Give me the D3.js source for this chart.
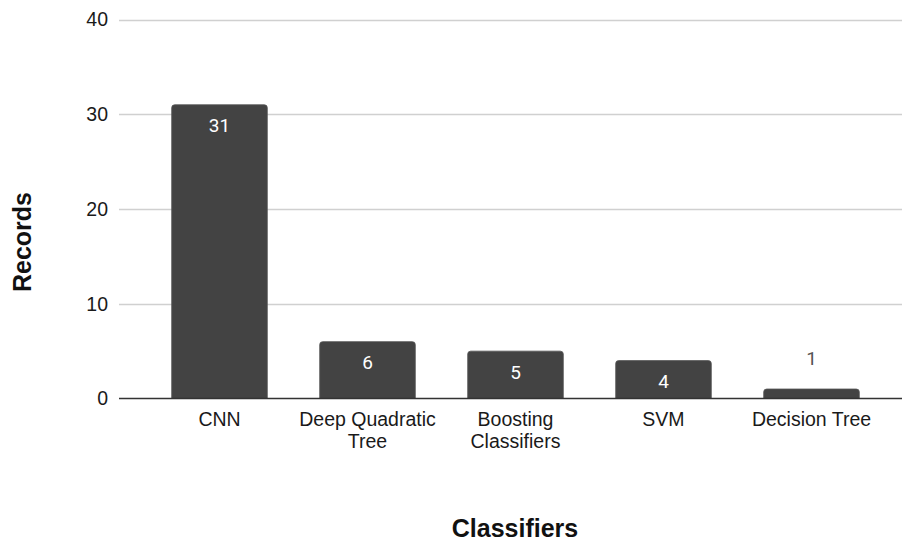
<!DOCTYPE html>
<html>
<head>
<meta charset="utf-8">
<script src="https://cdn.jsdelivr.net/npm/d3@7/dist/d3.min.js"></script>
<style>
  html, body { margin: 0; padding: 0; background: #fff; }
  svg { display: block; }
</style>
</head>
<body>
<script>
// Classifier usage counts
const categories = [["CNN"], ["Deep Quadratic", "Tree"], ["Boosting", "Classifiers"], ["SVM"], ["Decision Tree"]];
const records = [31, 6, 5, 4, 1];
const yTicks = [0, 10, 20, 30, 40];

const W = 902, H = 543;
const svg = d3.select("body").append("svg").attr("width", W).attr("height", H);

const keys = categories.map(c => c.join(" "));
const x = d3.scaleBand().domain(keys).range([145.5, 885.5]).paddingInner(0.354).paddingOuter(0.177);
const y = d3.scaleLinear().domain([0, 40]).range([398.5, 19.5]);

const sans = "'Liberation Sans', Arial, sans-serif";

// Horizontal gridlines
svg.append("g").selectAll("line").data(yTicks.filter(t => t > 0)).join("line")
  .attr("x1", 119).attr("x2", W)
  .attr("y1", d => Math.round(y(d)) + 0.5).attr("y2", d => Math.round(y(d)) + 0.5)
  .attr("stroke", "#d0d0d0").attr("stroke-width", 1.5);

// Y tick labels
svg.append("g").selectAll("text").data(yTicks).join("text")
  .attr("x", 108).attr("y", d => y(d)).attr("dy", "0.35em")
  .attr("text-anchor", "end")
  .style("font-family", sans).style("font-size", "19.5px").attr("fill", "#1a1a1a")
  .text(d => d);

// Bars with rounded tops
const r = 3;
svg.append("g").selectAll("path").data(records).join("path")
  .attr("d", (d, i) => {
    const x0 = x(keys[i]), w = x.bandwidth(), y0 = y(d), yb = y(0);
    return `M${x0},${yb}V${y0 + r}Q${x0},${y0} ${x0 + r},${y0}H${x0 + w - r}Q${x0 + w},${y0} ${x0 + w},${y0 + r}V${yb}Z`;
  })
  .attr("fill", "#434343").attr("stroke", "#555").attr("stroke-width", 0.8);

// Baseline
svg.append("line").attr("x1", 119).attr("x2", W).attr("y1", y(0)).attr("y2", y(0))
  .attr("stroke", "#333").attr("stroke-width", 1.5);

// Value labels: inside the bar when tall enough, above it otherwise
svg.append("g").selectAll("text").data(records).join("text")
  .attr("x", (d, i) => x(keys[i]) + x.bandwidth() / 2)
  .attr("y", d => (y(0) - y(d) > 30 ? y(d) + 21 : y(d) - 31))
  .attr("dy", "0.35em").attr("text-anchor", "middle")
  .style("font-family", "Roboto, 'Noto Sans', sans-serif").style("font-size", "19px")
  .attr("fill", d => (y(0) - y(d) > 30 ? "#ffffff" : "#555"))
  .text(d => d);

// Category labels (wrapped)
const cat = svg.append("g").selectAll("text").data(categories).join("text")
  .attr("x", (d, i) => x(keys[i]) + x.bandwidth() / 2)
  .attr("y", 426)
  .attr("text-anchor", "middle")
  .style("font-family", sans).style("font-size", "19.5px").attr("fill", "#1a1a1a");
cat.selectAll("tspan").data(d => d).join("tspan")
  .attr("x", function () { return d3.select(this.parentNode).attr("x"); })
  .attr("dy", (d, j) => (j === 0 ? 0 : 22))
  .text(d => d);

// Axis titles
svg.append("text").attr("x", 515).attr("y", 537).attr("text-anchor", "middle")
  .style("font-family", sans).style("font-size", "25px").style("font-weight", "bold")
  .attr("fill", "#111").text("Classifiers");
svg.append("text").attr("transform", "translate(31,242) rotate(-90)").attr("text-anchor", "middle")
  .style("font-family", sans).style("font-size", "25px").style("font-weight", "bold")
  .attr("fill", "#111").text("Records");
</script>
</body>
</html>
